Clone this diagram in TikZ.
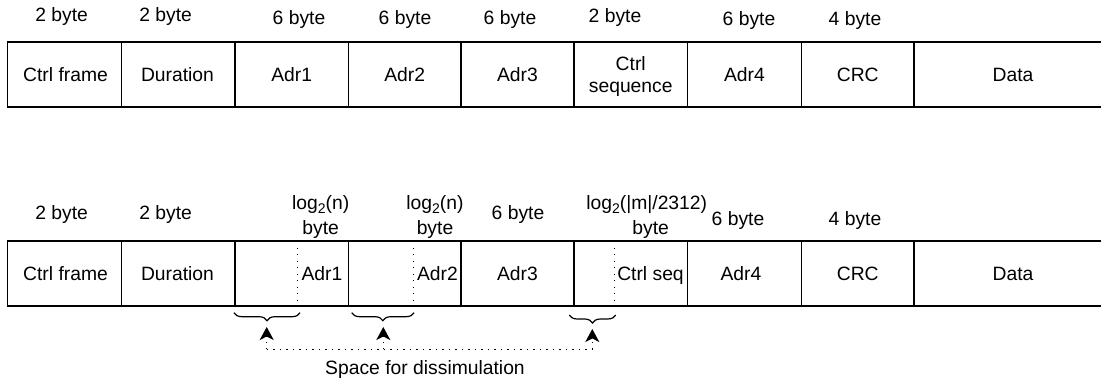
\documentclass[tikz,border=0pt]{standalone}
\usepackage{fontspec}
\setmainfont{Liberation Sans}
\usetikzlibrary{arrows.meta,decorations.pathreplacing}
\newcommand{\subtwo}{\raisebox{-4pt}{\fontsize{14}{14}\selectfont 2}}
\begin{document}
\begin{tikzpicture}[x=1pt,y=-1pt,
  field/.style={draw, line width=1.3pt, inner sep=0pt, outer sep=0pt, anchor=north west, minimum height=65pt},
  txt/.style={inner sep=0pt, anchor=base, font=\fontsize{19.3}{22}\selectfont},
  divider/.style={line width=1.3pt, dash pattern=on 1.3pt off 5.2pt},
  dotline/.style={line width=1.3pt, dash pattern=on 1.3pt off 5.2pt},
  arr/.style={-{Stealth[length=13pt,width=14pt,inset=3.5pt]}},
  brc/.style={line width=1.2pt, decorate, decoration={brace, mirror, amplitude=8pt}}
]
\useasboundingbox (0,0) rectangle (1101,383);
\clip (0,0) rectangle (1101,383);

% ---------- top row ----------
\node[field, minimum width=114.2pt] (a1) at (7.5,42) {};
\node[field, minimum width=113.3pt] (a2) at (121.7,42) {};
\node[field, minimum width=113.5pt] (a3) at (235,42) {};
\node[field, minimum width=112.5pt] (a4) at (348.5,42) {};
\node[field, minimum width=113pt] (a5) at (461,42) {};
\node[field, minimum width=113.5pt] (a6) at (574,42) {};
\node[field, minimum width=114pt] (a7) at (687.5,42) {};
\node[field, minimum width=112.5pt] (a8) at (801.5,42) {};
\node[field, minimum width=196pt] (a9) at (914,42) {};

\node[txt] (a1t) at (65.5,81.1) {Ctrl frame};
\node[txt] (a2t) at (177.5,81.1) {Duration};
\node[txt] (a3t) at (291.75,81.1) {Adr1};
\node[txt] (a4t) at (404.75,81.1) {Adr2};
\node[txt] (a5t) at (517.5,81.1) {Adr3};
\node[txt] (a6t) at (630.75,70) {Ctrl};
\node[txt] (a6u) at (630.75,92) {sequence};
\node[txt] (a7t) at (744.5,81.1) {Adr4};
\node[txt] (a8t) at (857.75,81.1) {CRC};
\node[txt] (a9t) at (1013,81.1) {Data};

\node[txt] (l1) at (61.7,21.4) {2 byte};
\node[txt] (l2) at (165.7,21.4) {2 byte};
\node[txt] (l3) at (299,24) {6 byte};
\node[txt] (l4) at (405,24) {6 byte};
\node[txt] (l5) at (510,24.7) {6 byte};
\node[txt] (l6) at (615,22) {2 byte};
\node[txt] (l7) at (749,25.7) {6 byte};
\node[txt] (l8) at (855,25.7) {4 byte};

% ---------- bottom row ----------
\node[field, minimum width=114.2pt] (b1) at (7.5,241) {};
\node[field, minimum width=113.3pt] (b2) at (121.7,241) {};
\node[field, minimum width=113.5pt] (b3) at (235,241) {};
\node[field, minimum width=112.5pt] (b4) at (348.5,241) {};
\node[field, minimum width=113pt] (b5) at (461,241) {};
\node[field, minimum width=113.5pt] (b6) at (574,241) {};
\node[field, minimum width=114pt] (b7) at (687.5,241) {};
\node[field, minimum width=112.5pt] (b8) at (801.5,241) {};
\node[field, minimum width=196pt] (b9) at (914,241) {};

\coordinate (d1a) at (297.7,241); \coordinate (d1b) at (297.7,307);
\coordinate (d2a) at (413.3,241); \coordinate (d2b) at (413.3,307);
\coordinate (d3a) at (614.3,241); \coordinate (d3b) at (614.3,307);
\draw[divider] (d1a) -- (d1b);
\draw[divider] (d2a) -- (d2b);
\draw[divider] (d3a) -- (d3b);

\node[txt] (b1t) at (65.5,280.1) {Ctrl frame};
\node[txt] (b2t) at (177.5,280.1) {Duration};
\node[txt] (b3t) at (322,280.1) {Adr1};
\node[txt] (b4t) at (437.5,280.1) {Adr2};
\node[txt] (b5t) at (517.5,280.1) {Adr3};
\node[txt] (b6t) at (650.5,280.1) {Ctrl seq};
\node[txt] (b7t) at (741,280.1) {Adr4};
\node[txt] (b8t) at (857.75,280.1) {CRC};
\node[txt] (b9t) at (1013,280.1) {Data};

\node[txt] (m1) at (61.7,219.7) {2 byte};
\node[txt] (m2) at (165.7,219.7) {2 byte};
\node[txt] (m3) at (320.7,209.7) {log\subtwo(n)};
\node[txt] (m3b) at (320.7,234.7) {byte};
\node[txt] (m4) at (435,209.7) {log\subtwo(n)};
\node[txt] (m4b) at (435,234.7) {byte};
\node[txt] (m5) at (518,219.7) {6 byte};
\node[txt] (m6) at (646.7,209.7) {log\subtwo(|m|/2312)};
\node[txt] (m6b) at (650.7,234.7) {byte};
\node[txt] (m7) at (738,225.3) {6 byte};
\node[txt] (m8) at (855,225.3) {4 byte};

% ---------- braces ----------
\coordinate (br1a) at (234,312.7); \coordinate (br1b) at (300,312.7);
\coordinate (br2a) at (351.7,312.7); \coordinate (br2b) at (414,312.7);
\coordinate (br3a) at (569.3,315); \coordinate (br3b) at (615.7,315);
\draw[brc] (br1a) -- (br1b);
\draw[brc] (br2a) -- (br2b);
\draw[brc] (br3a) -- (br3b);

% ---------- dotted pointers ----------
\coordinate (h1) at (266.7,349.3);
\coordinate (h2) at (383.3,349.3);
\coordinate (h3) at (592.3,349.3);
\coordinate (p1) at (266.7,327);
\coordinate (p2) at (383.3,327);
\coordinate (p3) at (592.3,329);
\draw[dotline] (h1) -- (h3);
\draw[dotline, arr] (h1) -- (p1);
\draw[dotline, arr] (h2) -- (p2);
\draw[dotline, arr] (h3) -- (p3);

\node[txt] (cap) at (425,374.7) {Space for dissimulation};
\end{tikzpicture}
\end{document}
